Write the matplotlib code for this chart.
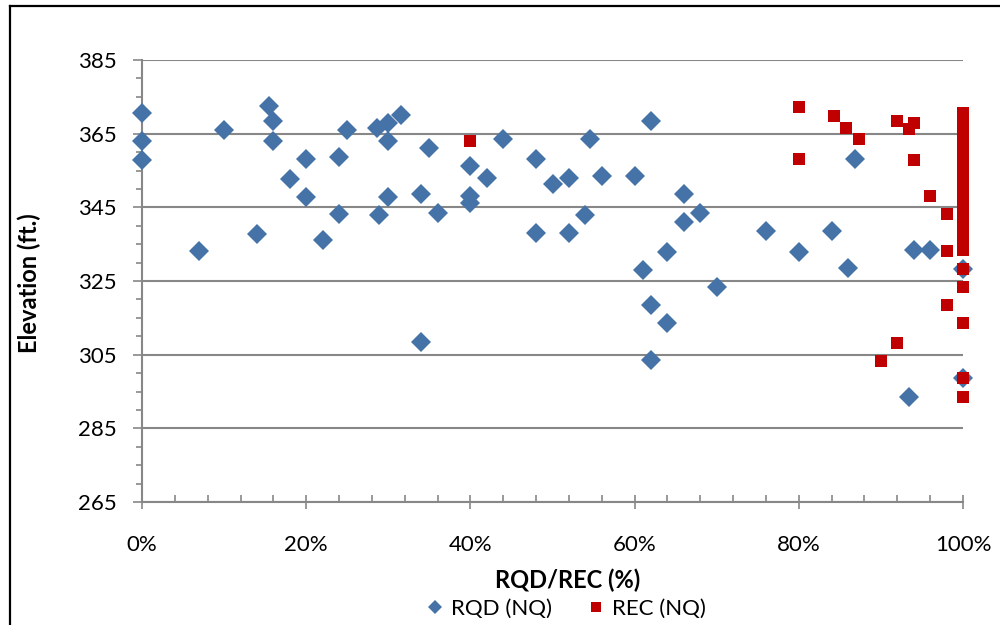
import matplotlib
matplotlib.use("Agg")
import matplotlib.pyplot as plt
from matplotlib.lines import Line2D
from matplotlib.ticker import MultipleLocator, FixedLocator, FuncFormatter

# ---- data ----
rqd_pct = [0, 0, 0, 7, 10, 14, 15.5, 16, 16, 18, 20, 20, 22, 24, 24, 25, 28.6, 28.9,
           30, 30, 30, 31.6, 34, 34, 35, 36, 40, 40, 40, 42, 44, 48, 48, 50, 52, 52,
           54, 54.6, 56, 60, 62, 61, 62, 62, 64, 64, 66, 66, 68, 70, 76, 80, 84, 86,
           86.8, 93.4, 94, 96, 100, 100]
rqd_elev = [370.5, 363, 357.8, 333.2, 366, 337.8, 372.5, 368.5, 362.9, 352.8, 358.1,
            347.9, 336.1, 358.6, 343.1, 366.1, 366.6, 342.9, 367.8, 362.9, 347.9, 370.1,
            308.4, 348.6, 361.2, 343.5, 356.2, 348.2, 346.1, 353, 363.5, 358.1, 338,
            351.2, 353, 338, 342.9, 363.5, 353.5, 353.5, 368.5, 328, 318.6, 303.5,
            313.5, 333, 348.5, 341.1, 343.5, 323.4, 338.6, 333, 338.6, 328.4, 358,
            293.5, 333.3, 333.3, 328.2, 298.6]

rec_pct = [40, 80, 84.3, 85.8, 87.3, 80, 92, 94, 93.4, 94, 96, 98, 98, 98, 92, 90,
           100, 100, 100, 100, 100, 100, 100, 100, 100, 100, 100, 100, 100, 100, 100,
           100, 100, 100, 100, 100, 100, 100, 100, 100, 100, 100, 100, 100, 100, 100,
           100, 100, 100]
rec_elev = [363.1, 372.3, 369.9, 366.6, 363.5, 358, 368.5, 367.8, 366.2, 357.8, 348.2,
            343.1, 333.1, 318.5, 308.3, 303.4,
            370.5, 370.1, 368.5, 367.8, 366.6, 366, 363.5, 363, 362.9, 361.2, 358.6,
            358.1, 356.2, 353.5, 353, 352.8, 351.2, 348.6, 347.9, 346.1, 343.5, 342.9,
            341.1, 338.6, 338, 337.8, 336.1, 333.3, 328.2, 323.4, 313.5, 298.6, 293.4]

y_ticks = [265, 285, 305, 325, 345, 365, 385]
x_ticks = [0, 0.2, 0.4, 0.6, 0.8, 1.0]

series_names = ["RQD (NQ)", "REC (NQ)"]
x_label = "RQD/REC (%)"
y_label = "Elevation (ft.)"

BLUE = "#4572A7"
RED = "#C00000"
GRID = "#878787"

plt.rcParams["font.family"] = ["Lato", "DejaVu Sans"]

fig = plt.figure(figsize=(10, 6.25), dpi=100)
ax = fig.add_axes([0.142, 1 - 502 / 625, 0.963 - 0.142, (502 - 60) / 625])

ax.plot([p / 100 for p in rqd_pct], rqd_elev, linestyle="none", marker="D",
        markersize=10, color=BLUE, markeredgewidth=0, clip_on=False, zorder=3)
ax.plot([p / 100 for p in rec_pct], rec_elev, linestyle="none", marker="s",
        markersize=8.6, color=RED, markeredgewidth=0, clip_on=False, zorder=4)

ax.set_xlim(0, 1)
ax.set_ylim(265, 385)
ax.xaxis.set_major_locator(FixedLocator(x_ticks))
ax.xaxis.set_minor_locator(MultipleLocator(0.04))
ax.yaxis.set_major_locator(FixedLocator(y_ticks))
ax.yaxis.set_minor_locator(MultipleLocator(5))
ax.xaxis.set_major_formatter(FuncFormatter(lambda v, _: f"{v * 100:.0f}%"))
ax.yaxis.set_major_formatter(FuncFormatter(lambda v, _: f"{v:.0f}"))

ax.grid(axis="y", which="major", color=GRID, linewidth=1.5, zorder=1)
ax.set_axisbelow(True)
for s in ["top", "right"]:
    ax.spines[s].set_visible(False)
for s in ["left", "bottom"]:
    ax.spines[s].set_color(GRID)
    ax.spines[s].set_linewidth(1.5)

ax.tick_params(axis="x", which="major", direction="inout", length=10, width=1.2,
               color=GRID, pad=19, labelsize=16)
ax.tick_params(axis="x", which="minor", direction="in", length=5, width=1.2, color=GRID)
ax.tick_params(axis="y", which="major", direction="out", length=6.5, width=1.2,
               color=GRID, pad=12, labelsize=16)
ax.tick_params(axis="y", which="minor", direction="out", length=4.5, width=1.2, color=GRID)

fig.text(0.568, 1 - 580 / 625, x_label, ha="center", va="center",
         fontsize=17, fontweight="bold")
fig.text(0.029, 1 - 283 / 625, y_label, ha="center", va="center",
         rotation=90, fontsize=17, fontweight="bold")

handles = [Line2D([], [], linestyle="none", marker="D", markersize=7.5, color=BLUE,
                  markeredgewidth=0),
           Line2D([], [], linestyle="none", marker="s", markersize=7, color=RED,
                  markeredgewidth=0)]
fig.legend(handles, series_names, loc="center", bbox_to_anchor=(0.566, 1 - 609 / 625),
           ncol=2, frameon=False, fontsize=16, handlelength=0.8, handletextpad=0.3,
           columnspacing=1.6, borderpad=0)

# chart frame (partially visible)
fig.add_artist(Line2D([0.010, 0.010], [0, 1 - 6 / 625], transform=fig.transFigure,
                      color="black", linewidth=1.6))
fig.add_artist(Line2D([0.010, 1.0], [1 - 6 / 625, 1 - 6 / 625], transform=fig.transFigure,
                      color="black", linewidth=1.6))

fig.savefig("out.png", dpi=100)
